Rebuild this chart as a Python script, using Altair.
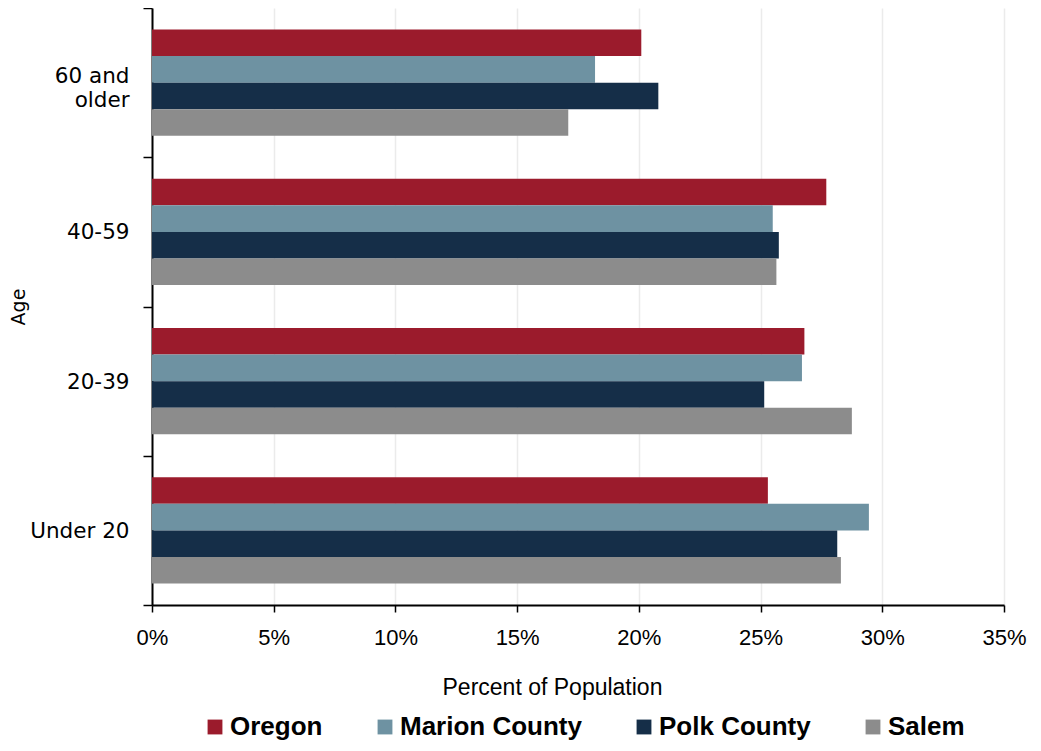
import altair as alt
import pandas as pd

ages = ["60 and older", "40-59", "20-39", "Under 20"]
series = ["Oregon", "Marion County", "Polk County", "Salem"]
colors = ["#9B1B2C", "#6E92A2", "#152E48", "#8C8C8C"]

oregon = [20.1, 27.7, 26.8, 25.3]
marion = [18.2, 25.5, 26.7, 29.45]
polk = [20.8, 25.75, 25.15, 28.15]
salem = [17.1, 25.65, 28.75, 28.3]

rows = []
for s, vals in zip(series, [oregon, marion, polk, salem]):
    for a, v in zip(ages, vals):
        rows.append({"Age": a, "Series": s, "Value": v / 100.0})
df = pd.DataFrame(rows)

sans = "Liberation Sans"

chart = alt.Chart(df).mark_bar().encode(
    y=alt.Y(
        "Age:N",
        sort=ages,
        scale=alt.Scale(paddingInner=0, paddingOuter=0),
        axis=alt.Axis(
            title="Age",
            tickBand="extent",
            tickSize=9,
            tickColor="black",
            tickWidth=1.5,
            domainColor="black",
            domainWidth=2,
            labelFont="DejaVu Sans",
            labelFontSize=21.5,
            labelColor="black",
            labelPadding=14,
            labelLimit=200,
            labelLineHeight=24,
            labelExpr="datum.label == '60 and older' ? ['60 and', 'older'] : datum.label",
            labelOffset={"condition": {"test": "datum.value == '60 and older'", "value": -6}, "value": 1},
            titleFont="DejaVu Sans",
            titleFontSize=19,
            titleFontWeight="normal",
            titleColor="black",
            titlePadding=1,
            grid=False,
        ),
    ),
    yOffset=alt.YOffset("Series:N", sort=series, scale=alt.Scale(paddingInner=0, paddingOuter=0.816)),
    x=alt.X(
        "Value:Q",
        scale=alt.Scale(domain=[0, 0.35], nice=False),
        axis=alt.Axis(
            title="Percent of Population",
            format=".0%",
            values=[0, 0.05, 0.1, 0.15, 0.2, 0.25, 0.3, 0.35],
            tickSize=7,
            tickColor="black",
            tickWidth=1.5,
            domainColor="black",
            domainWidth=2,
            grid=True,
            gridColor="#EBEBEB",
            gridWidth=1.5,
            labelFont=sans,
            labelFontSize=22,
            labelColor="black",
            labelPadding=15,
            labelFlush=False,
            titleFont=sans,
            titleFontSize=23,
            titleFontWeight="normal",
            titleColor="black",
            titlePadding=28,
            titleX=400,
        ),
    ),
    color=alt.Color(
        "Series:N",
        sort=series,
        scale=alt.Scale(domain=series, range=colors),
        legend=alt.Legend(
            title=None,
            orient="none",
            direction="horizontal",
            columns=4,
            legendX=50,
            legendY=706,
            symbolType="square",
            symbolSize=220,
            symbolStrokeWidth=0,
            labelFont=sans,
            labelFontSize=26,
            labelFontWeight="bold",
            labelColor="black",
            labelOffset=2,
            columnPadding=49,
            labelLimit=300,
        ),
    ),
).properties(
    width=852,
    height=597,
    padding={"left": 144, "top": 0, "right": 29, "bottom": 140},
    autosize=alt.AutoSizeParams(type="none"),
).configure_view(stroke=None)

chart.save("out.html", embed_options={"renderer": "svg", "actions": False})
